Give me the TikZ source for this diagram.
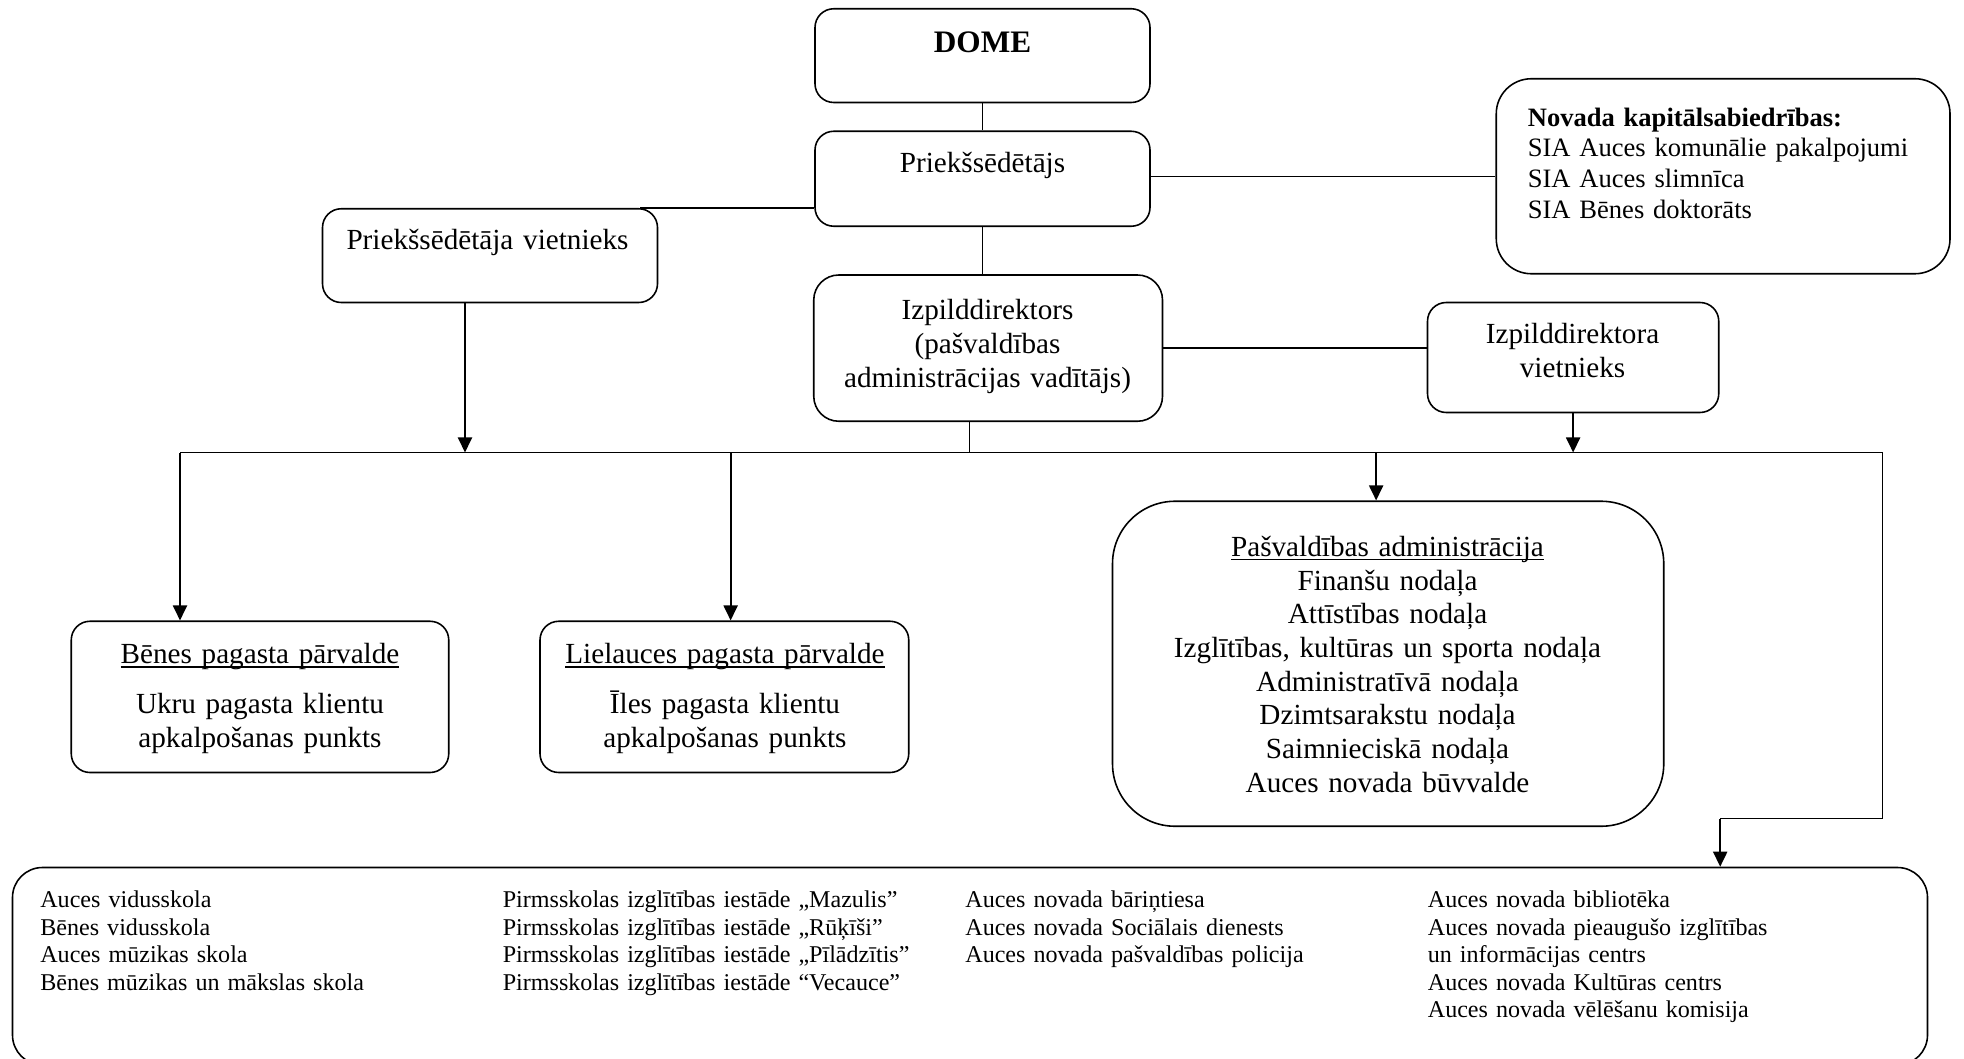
\documentclass[tikz,border=0pt]{standalone}
\usepackage{fontspec}
\setmainfont{Liberation Serif}
\usetikzlibrary{arrows.meta,fit}
\newcommand\undl[1]{\setbox0\hbox{#1}\rlap{\rule[-2.2pt]{\wd0}{0.8pt}}\box0}

\begin{document}
\begin{tikzpicture}[x=0.025cm,y=-0.025cm,
    >={Triangle[length=0.3cm,width=0.28cm]},
    box/.style={draw, line width=0.9pt, rounded corners=0.375cm, inner sep=0pt},
    txt/.style={inner sep=0pt, align=center, text width=10cm, anchor=base, font=\fontsize{16.6}{19.2}\selectfont},
    small/.style={inner sep=0pt, align=left, text width=9cm, anchor=base west, font=\fontsize{13.7}{15.65}\selectfont},
    line/.style={line width=0.8pt},
    arr/.style={line width=1.1pt, ->}]

    \clip (0,0) rectangle (1571.2,847.2);

    \node[box, fit={(652,7) (920,82)}] (dome) {};
    \node[box, fit={(652,105) (920,181)}] (pr) {};
    \node[box, fit={(258,167) (526,242)}] (vt) {};
    \node[box, rounded corners=0.7cm, fit={(1197,63) (1560,219)}] (kap) {};
    \node[box, rounded corners=0.5cm, fit={(651,220) (930,337)}] (iz) {};
    \node[box, fit={(1142,242) (1375,330)}] (izv) {};
    \node[box, fit={(57,497) (359,618)}] (ben) {};
    \node[box, fit={(432,497) (727,618)}] (lie) {};
    \node[box, rounded corners=1.25cm, fit={(890,401) (1331,661)}] (adm) {};
    \node[box, rounded corners=0.6cm, fit={(10,694) (1542,852)}] (iest) {};

    \node[txt, font=\fontsize{17.8}{21}\selectfont\bfseries] (dome-t) at (786,42) {DOME};
    \node[txt] (pr-t) at (786,138) {Priekšsēdētājs};
    \node[txt] (vt-t) at (390,200) {Priekšsēdētāja vietnieks};
    \node[txt] (iz-t) at (790,256) {Izpilddirektors\\(pašvaldības\\administrācijas vadītājs)};
    \node[txt] (izv-t) at (1258,275) {Izpilddirektora\\vietnieks};
    \node[txt, align=left, anchor=base west, text width=9cm, font=\fontsize{15.1}{17.4}\selectfont] (kap-t) at (1222,101)
        {\textbf{Novada kapitālsabiedrības:}\\SIA Auces komunālie pakalpojumi\\SIA Auces slimnīca\\SIA Bēnes doktorāts};
    \node[txt] (ben-t) at (208,531) {\undl{Bēnes pagasta pārvalde}\\[9pt]Ukru pagasta klientu\\apkalpošanas punkts};
    \node[txt] (lie-t) at (580,531) {\undl{Lielauces pagasta pārvalde}\\[9pt]Īles pagasta klientu\\apkalpošanas punkts};
    \node[txt] (adm-t) at (1110,445) {\undl{Pašvaldības administrācija}\\Finanšu nodaļa\\Attīstības nodaļa\\Izglītības, kultūras un sporta nodaļa\\Administratīvā nodaļa\\Dzimtsarakstu nodaļa\\Saimnieciskā nodaļa\\Auces novada būvvalde};

    \node[small] (c1) at (32,726) {Auces vidusskola\\Bēnes vidusskola\\Auces mūzikas skola\\Bēnes mūzikas un mākslas skola};
    \node[small] (c2) at (402,726) {Pirmsskolas izglītības iestāde „Mazulis”\\Pirmsskolas izglītības iestāde „Rūķīši”\\Pirmsskolas izglītības iestāde „Pīlādzītis”\\Pirmsskolas izglītības iestāde “Vecauce”};
    \node[small] (c3) at (772,726) {Auces novada bāriņtiesa\\Auces novada Sociālais dienests\\Auces novada pašvaldības policija};
    \node[small] (c4) at (1142,726) {Auces novada bibliotēka\\Auces novada pieaugušo izglītības\\un informācijas centrs\\Auces novada Kultūras centrs\\Auces novada vēlēšanu komisija};

    \coordinate (bus-l) at (144,362);
    \coordinate (bus-r) at (1506,362);
    \coordinate (elb) at (1506,655);
    \coordinate (vt-o) at ([xshift=-0.5cm]vt.south);
    \coordinate (vt-e) at ([xshift=-0.375cm]vt.north east);
    \coordinate (iz-o) at ([xshift=-0.375cm]iz.south);
    \coordinate (lie-i) at ([xshift=0.125cm]lie.north);
    \coordinate (adm-i) at ([xshift=-0.24cm]adm.north);
    \coordinate (iest-i) at ([xshift=15cm]iest.north);

    \draw[line] (dome.south) -- (pr.north);
    \draw[line] (pr.west |- vt.north) -- (vt-e);
    \draw[line] (pr.east |- kap.west) -- (kap.west);
    \draw[line] (pr.south) -- (pr.south |- iz.north);
    \draw[line] (iz.east) -- (iz.east -| izv.west);
    \draw[arr] (vt-o) -- (vt-o |- bus-l);
    \draw[line] (iz-o) -- (iz-o |- bus-l);
    \draw[arr] (izv.south) -- (izv.south |- bus-l);
    \draw[line] (bus-l) -- (bus-r);
    \draw[line] (bus-r) -- (elb) -- (elb -| iest-i);
    \draw[arr] (elb -| iest-i) -- (iest-i);
    \draw[arr] (bus-l) -- (bus-l |- ben.north);
    \draw[arr] (lie-i |- bus-l) -- (lie-i);
    \draw[arr] (adm-i |- bus-l) -- (adm-i);
\end{tikzpicture}
\end{document}
